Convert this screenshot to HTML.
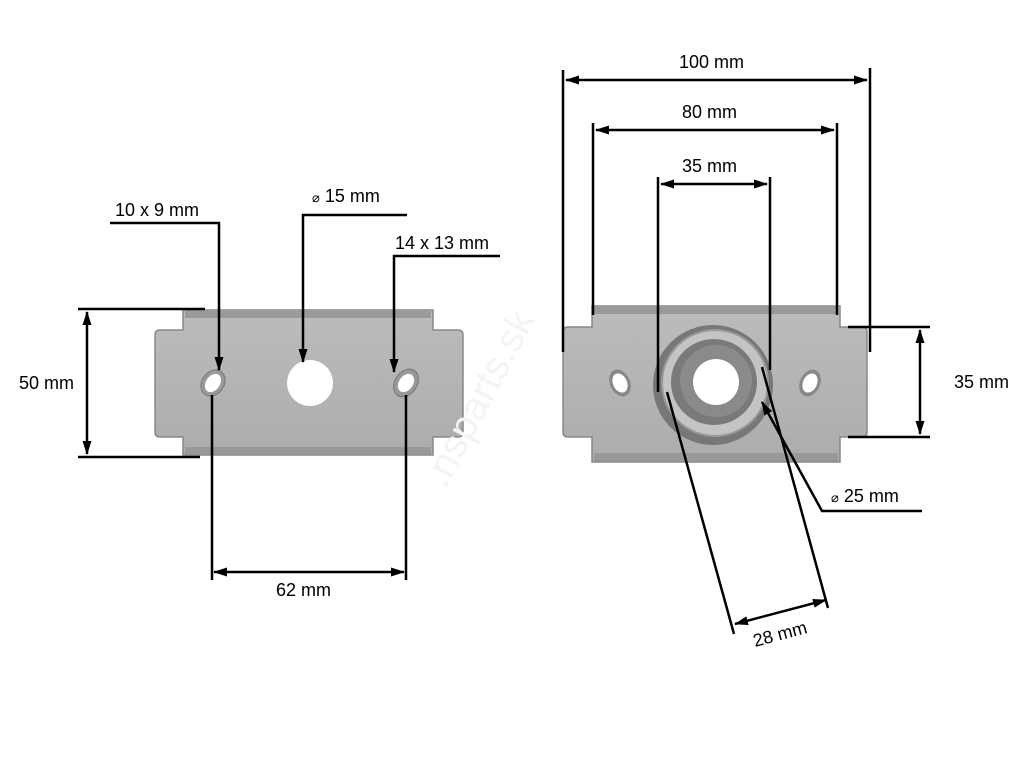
<!DOCTYPE html>
<html><head><meta charset="utf-8"><style>
html,body{margin:0;padding:0;background:#fff;}
svg{display:block;font-family:"Liberation Sans",Arial,sans-serif;}
</style></head><body>
<svg width="1024" height="768" viewBox="0 0 1024 768" xmlns="http://www.w3.org/2000/svg">
<defs>
<marker id="a" viewBox="0 0 14 9" refX="13" refY="4.5" markerWidth="14" markerHeight="9" markerUnits="userSpaceOnUse" orient="auto-start-reverse"><path d="M0,0 L14,4.5 L0,9 z" fill="#000"/></marker>
<linearGradient id="g" x1="0" y1="0" x2="0" y2="1"><stop offset="0" stop-color="#bcbcbc"/><stop offset="1" stop-color="#acacac"/></linearGradient>
</defs>
<!-- Left plate -->
<path d="M183,310 L433,310 L433,330 L458,330 Q463,330 463,335 L463,432 Q463,437 458,437 L433,437 L433,455 L183,455 L183,437 L160,437 Q155,437 155,432 L155,335 Q155,330 160,330 L183,330 Z" fill="url(#g)" stroke="#888" stroke-width="1.5"/>
<rect x="185" y="310" width="246" height="8" fill="#9a9a9a"/>
<rect x="185" y="447" width="246" height="7" fill="#999"/>
<circle cx="310" cy="383" r="23" fill="#fff"/>
<ellipse cx="213" cy="383" rx="14" ry="11" transform="rotate(-55 213 383)" fill="#999" stroke="#777"/>
<ellipse cx="213" cy="383" rx="10" ry="7" transform="rotate(-55 213 383)" fill="#fff"/>
<ellipse cx="406" cy="383" rx="15" ry="11" transform="rotate(-55 406 383)" fill="#999" stroke="#777"/>
<ellipse cx="406" cy="383" rx="10" ry="7" transform="rotate(-55 406 383)" fill="#fff"/>
<!-- Left dims -->
<g stroke="#000" stroke-width="2.5" fill="none">
<line x1="78" y1="309" x2="205" y2="309"/>
<line x1="78" y1="457" x2="200" y2="457"/>
<line x1="87" y1="312" x2="87" y2="454" marker-start="url(#a)" marker-end="url(#a)"/>
<line x1="212" y1="395" x2="212" y2="580"/>
<line x1="406" y1="395" x2="406" y2="580"/>
<line x1="214" y1="572" x2="404" y2="572" marker-start="url(#a)" marker-end="url(#a)"/>
<polyline points="110,223 219,223 219,370" marker-end="url(#a)"/>
<polyline points="407,215 303,215 303,362" marker-end="url(#a)"/>
<polyline points="500,256 394,256 394,372" marker-end="url(#a)"/>
</g>
<g font-size="18" fill="#000">
<text x="19" y="389">50 mm</text>
<text x="276" y="596">62 mm</text>
<text x="115" y="216">10 x 9 mm</text>
<text x="312" y="202"><tspan font-size="13">⌀</tspan> 15 mm</text>
<text x="395" y="249">14 x 13 mm</text>
</g>
<!-- Right plate -->
<path d="M592,306 L840,306 L840,327 L862,327 Q867,327 867,332 L867,432 Q867,437 862,437 L840,437 L840,462 L592,462 L592,437 L568,437 Q563,437 563,432 L563,332 Q563,327 568,327 L592,327 Z" fill="url(#g)" stroke="#888" stroke-width="1.5"/>
<rect x="594" y="306" width="244" height="8" fill="#999"/>
<rect x="594" y="453" width="244" height="8" fill="#999"/>
<ellipse cx="620" cy="383" rx="14" ry="10" transform="rotate(65 620 383)" fill="#888"/>
<ellipse cx="620" cy="383" rx="10" ry="7" transform="rotate(65 620 383)" fill="#fff"/>
<ellipse cx="810" cy="383" rx="14" ry="10" transform="rotate(-65 810 383)" fill="#888"/>
<ellipse cx="810" cy="383" rx="10" ry="7" transform="rotate(-65 810 383)" fill="#fff"/>
<circle cx="713" cy="385" r="60" fill="#777"/>
<circle cx="715" cy="383" r="53" fill="#c4c4c4" stroke="#999" stroke-width="2"/>
<circle cx="714" cy="382" r="43" fill="#7a7a7a"/>
<circle cx="716" cy="381" r="36" fill="#8a8a8a"/>
<circle cx="716" cy="382" r="23" fill="#fff"/>
<!-- watermark -->
<text x="0" y="0" font-size="40" fill="#f4f4f4" transform="translate(445,490) rotate(-62)">.nsparts.sk</text>
<!-- Right dims -->
<g stroke="#000" stroke-width="2.5" fill="none">
<line x1="563" y1="70" x2="563" y2="352"/>
<line x1="870" y1="68" x2="870" y2="352"/>
<line x1="566" y1="80" x2="867" y2="80" marker-start="url(#a)" marker-end="url(#a)"/>
<line x1="593" y1="123" x2="593" y2="315"/>
<line x1="837" y1="123" x2="837" y2="315"/>
<line x1="596" y1="130" x2="834" y2="130" marker-start="url(#a)" marker-end="url(#a)"/>
<line x1="658" y1="177" x2="658" y2="392"/>
<line x1="770" y1="177" x2="770" y2="370"/>
<line x1="661" y1="184" x2="767" y2="184" marker-start="url(#a)" marker-end="url(#a)"/>
<line x1="848" y1="327" x2="930" y2="327"/>
<line x1="848" y1="437" x2="930" y2="437"/>
<line x1="920" y1="330" x2="920" y2="434" marker-start="url(#a)" marker-end="url(#a)"/>
<line x1="667" y1="392" x2="734" y2="634"/>
<line x1="762" y1="367" x2="828" y2="608"/>
<line x1="735" y1="624" x2="826" y2="600" marker-start="url(#a)" marker-end="url(#a)"/>
<polyline points="922,511 822,511 762,402" marker-end="url(#a)"/>
</g>
<g font-size="18" fill="#000">
<text x="679" y="68">100 mm</text>
<text x="682" y="118">80 mm</text>
<text x="682" y="172">35 mm</text>
<text x="954" y="388">35 mm</text>
<text x="831" y="502"><tspan font-size="13">⌀</tspan> 25 mm</text>
<text x="0" y="0" transform="translate(755,647) rotate(-15)">28 mm</text>
</g>
</svg>
</body></html>
